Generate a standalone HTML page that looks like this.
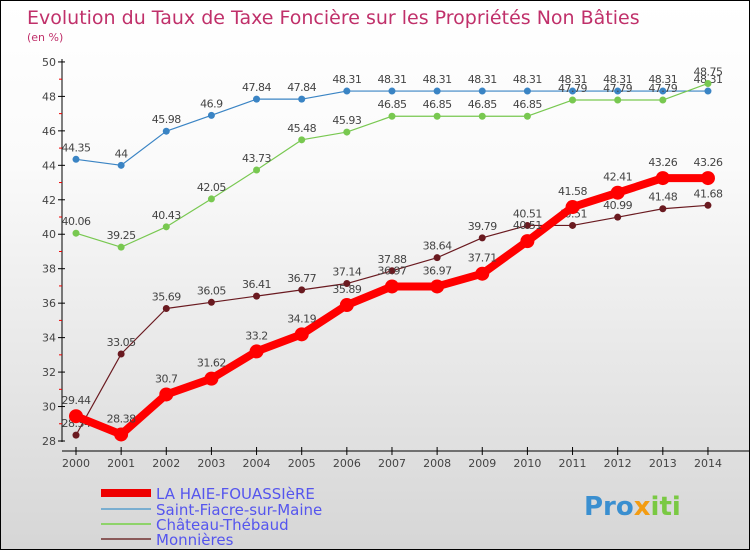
<!DOCTYPE html>
<html><head><meta charset="utf-8"><style>
body{margin:0}
#c{position:relative;width:748px;height:548px;border:1px solid #000;background:linear-gradient(#fff,#fafafa 30%,#d6d6d6);font-family:"DejaVu Sans","Liberation Sans",sans-serif;overflow:hidden}
</style></head><body>
<div id="c">
<svg width="748" height="548" id="s">
<text x="26" y="23" font-size="19" fill="#c0306a">Evolution du Taux de Taxe Foncière sur les Propriétés Non Bâties</text>
<text x="26" y="40" font-size="11" fill="#c0306a">(en %)</text>
<g id="axes"></g><g id="series"></g>
<g>
<line x1="100" y1="492" x2="150" y2="492" stroke="#e00" stroke-width="8"/>
<text x="155" y="498" font-size="15" fill="#55e">LA HAIE-FOUASSIèRE</text>
<line x1="100" y1="508" x2="150" y2="508" stroke="#7aaed0" stroke-width="2"/>
<text x="155" y="514" font-size="15" fill="#55e">Saint-Fiacre-sur-Maine</text>
<line x1="100" y1="523" x2="150" y2="523" stroke="#8ed36a" stroke-width="2"/>
<text x="155" y="529" font-size="15" fill="#55e">Château-Thébaud</text>
<line x1="100" y1="538" x2="150" y2="538" stroke="#8a5a5a" stroke-width="2"/>
<text x="155" y="544" font-size="15" fill="#55e">Monnières</text>
</g>
<text x="583" y="514" font-size="26" font-weight="bold" fill="#3a8fd0">Pro<tspan fill="#f39c12">x</tspan><tspan fill="#7ac943">iti</tspan></text>
</svg></div>
<script>
const years=[2000,2001,2002,2003,2004,2005,2006,2007,2008,2009,2010,2011,2012,2013,2014];
const haie=[29.44,28.38,30.7,31.62,33.2,34.19,35.89,36.97,36.97,37.71,39.6,41.58,42.41,43.26,43.26];
const haieLabels=["29.44","28.38","30.7","31.62","33.2","34.19","35.89","36.97","36.97","37.71","40.51","41.58","42.41","43.26","43.26"];
const fiacre=[44.35,44,45.98,46.9,47.84,47.84,48.31,48.31,48.31,48.31,48.31,48.31,48.31,48.31,48.31];
const chateau=[40.06,39.25,40.43,42.05,43.73,45.48,45.93,46.85,46.85,46.85,46.85,47.79,47.79,47.79,48.75];
const monn=[28.34,33.05,35.69,36.05,36.41,36.77,37.14,37.88,38.64,39.79,40.51,40.51,40.99,41.48,41.68];
const yTicks=[28,30,32,34,36,38,40,42,44,46,48,50];
const ns="http://www.w3.org/2000/svg";
const X=y=>75+(y-2000)*45.14, Y=v=>440-(v-28)*17.23;
function mk(t,a,p){const e=document.createElementNS(ns,t);for(const k in a)e.setAttribute(k,a[k]);p.appendChild(e);return e;}
const ax=document.getElementById('axes'),sg=document.getElementById('series');
let l=mk('line',{x1:61,y1:58,x2:61,y2:441,stroke:'#000'},ax);


l=mk('line',{x1:61,y1:450,x2:748,y2:450,stroke:'#000'},ax);


yTicks.forEach(v=>{mk('line',{x1:57,y1:Y(v),x2:64,y2:Y(v),stroke:'#000'},ax);
if(v<50)mk('line',{x1:58,y1:Y(v+1),x2:61,y2:Y(v+1),stroke:'#e00'},ax);
const t=mk('text',{x:55,y:Y(v)+4,'font-size':11,'text-anchor':'end',fill:'#444'},ax);t.textContent=v;

});
years.forEach(y=>{mk('line',{x1:X(y),y1:446,x2:X(y),y2:454,stroke:'#000'},ax);
const t=mk('text',{x:X(y),y:466,'font-size':11,'text-anchor':'middle',fill:'#444'},ax);t.textContent=y;

});
function series(d,lab,col,w,r,name,dy){
const g=mk('g',{},sg);


mk('polyline',{points:d.map((v,i)=>X(years[i])+','+Y(v)).join(' '),fill:'none',stroke:col,'stroke-width':w,'stroke-linejoin':'round'},g);
d.forEach((v,i)=>{const c=mk('circle',{cx:X(years[i]),cy:Y(v),r:r,fill:col},g);


const t=mk('text',{x:X(years[i]),y:Y(v)+dy,'font-size':11,'text-anchor':'middle',fill:'#444','letter-spacing':'-0.5'},g);t.textContent=lab?lab[i]:v;});}
series(fiacre,null,'#3a84c4',1.2,3.5,'saint-fiacre-series',-8);
series(chateau,null,'#78c850',1.2,3.5,'chateau-thebaud-series',-8);
series(monn,null,'#6a1a20',1.2,3.5,'monnieres-series',-8);
series(haie,haieLabels,'#f00',8,7,'la-haie-series',-12);
</script>
</body></html>
